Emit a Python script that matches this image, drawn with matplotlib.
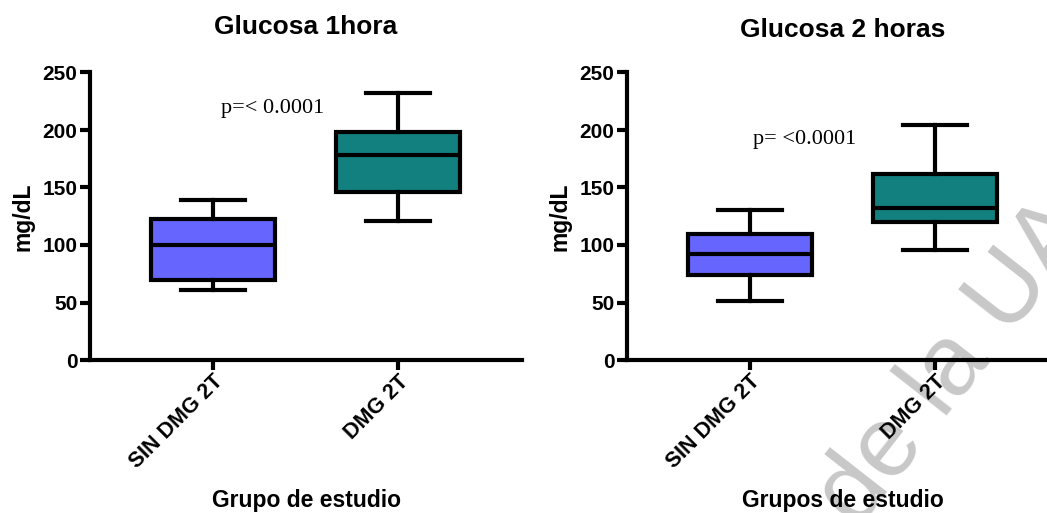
import matplotlib
matplotlib.use("Agg")
import matplotlib.pyplot as plt

plt.rcParams['font.family'] = ['Liberation Sans', 'DejaVu Sans']

# groups on the x axis
grupos = ["SIN DMG 2T", "DMG 2T"]
colores = ["#6666FF", "#138080"]

# glucosa 1 hora (mg/dL): whisker low, Q1, median, Q3, whisker high
g1_low = [61, 121]
g1_q1 = [70, 146]
g1_med = [100, 178]
g1_q3 = [123, 198]
g1_high = [139, 232]

# glucosa 2 horas (mg/dL)
g2_low = [51, 96]
g2_q1 = [74, 120]
g2_med = [92, 132]
g2_q3 = [110, 162]
g2_high = [130, 204]

titulos = ["Glucosa 1hora", "Glucosa 2 horas"]
xlabels = ["Grupo de estudio", "Grupos de estudio"]
p_textos = ["p=< 0.0001", "p= <0.0001"]
p_pos = [(1.043, 219), (1.016, 192)]


def stats(low, q1, med, q3, high):
    out = []
    for i in range(len(med)):
        out.append(dict(whislo=low[i], q1=q1[i], med=med[i], q3=q3[i],
                        whishi=high[i], fliers=[]))
    return out


fig = plt.figure(figsize=(10.47, 5.13), dpi=100)

# watermark, behind everything
fig.text(858 / 1047, 1 - 530 / 513, "de la UAQ", fontsize=72, color="#c8c8c8",
         rotation=52, rotation_mode='anchor', ha='left', va='baseline', zorder=-5)

lw = 3
ax1 = fig.add_axes([90 / 1047, 153 / 513, 432 / 1047, 287.5 / 513])
ax2 = fig.add_axes([627 / 1047, 153 / 513, 432 / 1047, 287.5 / 513])

datos = [stats(g1_low, g1_q1, g1_med, g1_q3, g1_high),
         stats(g2_low, g2_q1, g2_med, g2_q3, g2_high)]

for k, ax in enumerate([ax1, ax2]):
    ax.set_facecolor('none')
    bp = ax.bxp(datos[k], positions=[1, 2], widths=0.67, capwidths=0.35,
                patch_artist=True, showfliers=False,
                boxprops=dict(linewidth=lw, edgecolor='black'),
                medianprops=dict(linewidth=lw, color='black'),
                whiskerprops=dict(linewidth=lw, color='black'),
                capprops=dict(linewidth=lw, color='black'))
    for patch, c in zip(bp['boxes'], colores):
        patch.set_facecolor(c)

    ax.set_xlim(0.335, 2.67)
    ax.set_ylim(0, 250)
    ax.set_yticks([0, 50, 100, 150, 200, 250])
    ax.set_xticks([1, 2])
    ax.set_xticklabels(grupos, rotation=45, ha='right', rotation_mode='anchor',
                       fontsize=15.5, fontweight='bold')
    for lab in ax.get_yticklabels():
        lab.set_fontsize(15)
        lab.set_fontweight('bold')
    ax.tick_params(axis='both', direction='out', length=7, width=lw, pad=2)
    ax.tick_params(axis='x', pad=1)

    for s in ['top', 'right']:
        ax.spines[s].set_visible(False)
    for s in ['left', 'bottom']:
        ax.spines[s].set_linewidth(lw)

    ax.set_title(titulos[k], fontsize=19, fontweight='bold',
                 y=1.158 - 0.01 * k, va='center', pad=0)
    ax.set_ylabel("mg/dL", fontsize=16.5, fontweight='bold')
    ax.yaxis.set_label_coords(-0.155, 0.497)
    ax.yaxis.label.set_va('center')
    ax.set_xlabel(xlabels[k], fontsize=16.5, fontweight='bold')
    ax.xaxis.set_label_coords(0.5, -0.49)
    ax.xaxis.label.set_va('center')

    ax.text(p_pos[k][0], p_pos[k][1], p_textos[k], fontsize=16,
            family='Liberation Serif', ha='left', va='center')

fig.savefig("out.png", dpi=100)
